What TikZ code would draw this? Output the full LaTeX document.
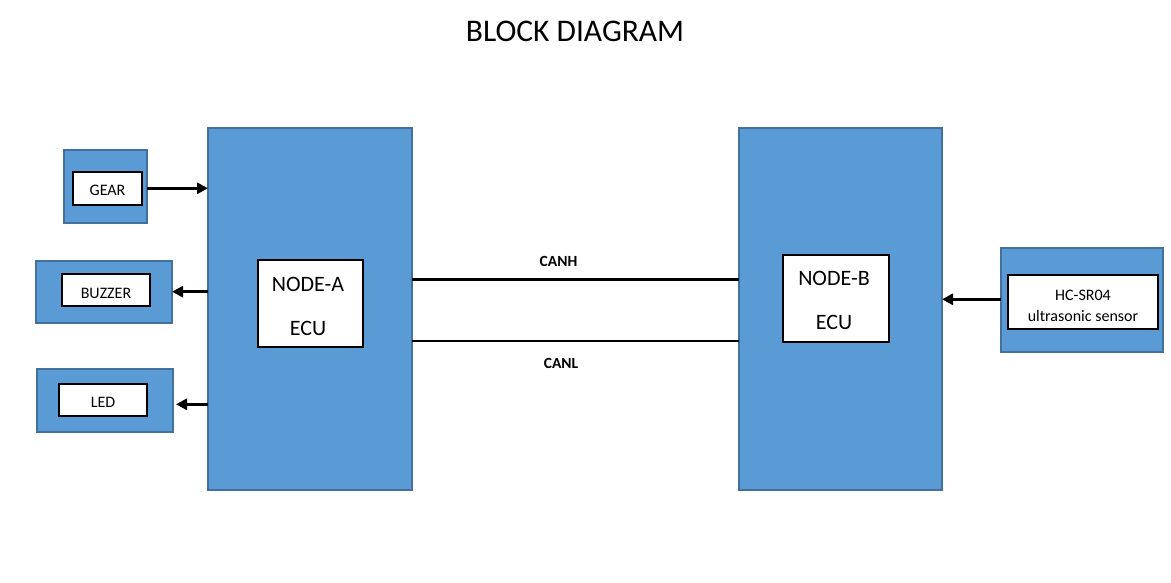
\documentclass[tikz,border=0pt]{standalone}
\usepackage{fontspec}
\setmainfont{Carlito}
\usetikzlibrary{arrows.meta}
\definecolor{boxblue}{HTML}{5B9BD5}
\definecolor{boxedge}{HTML}{41719C}
\begin{document}
\begin{tikzpicture}[x=1pt,y=-1pt,
  outerbox/.style={draw=boxedge,fill=boxblue,line width=1.8pt,minimum width=#1,inner sep=0pt,outer sep=0pt},
  innerbox/.style={draw=black,fill=white,line width=2.2pt,inner sep=0pt,outer sep=0pt},
  smalltext/.style={font=\fontsize{16}{21}\selectfont,align=center},
  bigtext/.style={font=\fontsize{22}{44}\selectfont,align=center},
  cantext/.style={font=\fontsize{15.5}{18}\selectfont\bfseries},
  conn/.style={line width=2.8pt,draw=black},
  arr/.style={conn,-{Triangle[length=11pt,width=11pt]}}
]
\useasboundingbox (0,0) rectangle (1171,583);
\node (title) at (575,31) {\fontsize{31.5}{36}\selectfont BLOCK DIAGRAM};

% ECU blocks
\node[outerbox=204pt,minimum height=362pt] (bigA) at (310,309) {};
\node[outerbox=203pt,minimum height=362pt] (bigB) at (840.5,309) {};
\node[innerbox,minimum width=105pt,minimum height=87pt] (nodeA) at (310.5,303.5) {};
\node[bigtext] (nodeAtxt) at (308,306) {NODE-A\\ECU};
\node[innerbox,minimum width=106pt,minimum height=87pt] (nodeB) at (836,298.5) {};
\node[bigtext] (nodeBtxt) at (834,300) {NODE-B\\ECU};

% peripherals
\node[outerbox=83pt,minimum height=73pt] (gearout) at (105.5,186.5) {};
\node[innerbox,minimum width=69pt,minimum height=33pt] (gearin) at (107.5,188.5) {};
\node[smalltext] (geartxt) at (107.5,190.5) {GEAR};
\node[outerbox=136pt,minimum height=62pt] (buzzout) at (104,292) {};
\node[innerbox,minimum width=88pt,minimum height=32pt] (buzzin) at (106,290) {};
\node[smalltext] (buzztxt) at (106,293) {BUZZER};
\node[outerbox=136pt,minimum height=63pt] (ledout) at (105,400.5) {};
\node[innerbox,minimum width=88pt,minimum height=32pt] (ledin) at (103,400) {};
\node[smalltext] (ledtxt) at (103,402.5) {LED};
\node[outerbox=162pt,minimum height=104pt] (hcout) at (1082,300) {};
\node[innerbox,minimum width=150pt,minimum height=54pt] (hcin) at (1083,302) {};
\node[smalltext] (hctxt) at (1083,305.5) {HC-SR04\\ultrasonic sensor};

% connectors
\coordinate (gy) at (0,188.3);
\coordinate (by) at (0,291.7);
\coordinate (ly) at (0,404.3);
\coordinate (hy) at (0,299.3);
\coordinate (canhy) at (0,279.3);
\coordinate (canly) at (0,341);
\coordinate (ledtip) at (176,0);
\draw[arr] (gearout.east |- gy) -- (bigA.west |- gy);
\draw[arr] (bigA.west |- by) -- (buzzout.east |- by);
\draw[arr] (bigA.west |- ly) -- (ledtip |- ly);
\draw[arr] (hcout.west |- hy) -- (bigB.east |- hy);
\draw[conn] (bigA.east |- canhy) -- (bigB.west |- canhy);
\draw[conn] (bigA.east |- canly) -- (bigB.west |- canly);
\node[cantext] (canh) at (558.5,261) {CANH};
\node[cantext] (canl) at (561,363.5) {CANL};
\end{tikzpicture}
\end{document}
